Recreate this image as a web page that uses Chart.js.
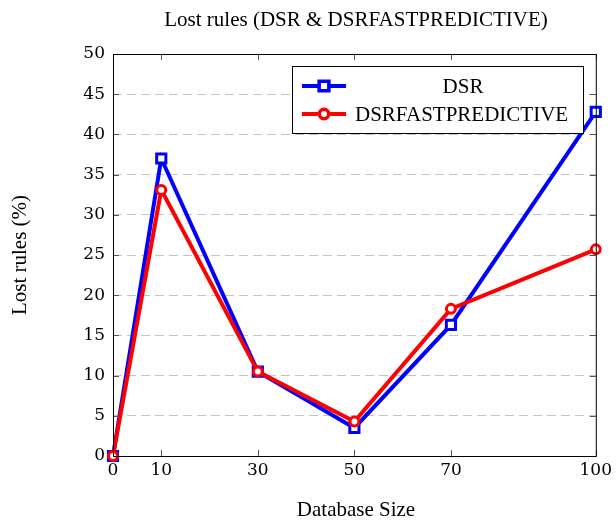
<!DOCTYPE html>
<html>
<head>
<meta charset="utf-8">
<script src="https://cdn.jsdelivr.net/npm/chart.js@4"></script>
<style>
  html, body { margin: 0; padding: 0; background: #fff; }
  #wrap { width: 616px; height: 520px; }
</style>
</head>
<body>
<div id="wrap"><canvas id="c" width="616" height="520"></canvas></div>
<script>
// data
const sizes = [0, 10, 30, 50, 70, 100];
const dsr = [0, 37, 10.5, 3.5, 16.3, 42.8];
const dsrFast = [0, 33.1, 10.5, 4.3, 18.3, 25.7];
const xTicks = [0, 10, 30, 50, 70, 100];
const yTicks = [0, 5, 10, 15, 20, 25, 30, 35, 40, 45, 50];

const SERIF = '"Liberation Serif", "Times New Roman", serif';
const NUM = '"DejaVu Serif", serif';

function pairs(xs, ys) {
  return xs.map((x, i) => ({ x, y: ys[i] }));
}

// frame, inner tick marks, titles and legend
const decor = {
  id: 'decor',
  afterDraw(chart) {
    const { ctx, chartArea: a, scales } = chart;
    ctx.save();

    // inner tick marks
    ctx.strokeStyle = '#555';
    ctx.lineWidth = 1;
    ctx.beginPath();
    yTicks.forEach(v => {
      const y = Math.round(scales.y.getPixelForValue(v)) + 0.5;
      ctx.moveTo(a.left, y); ctx.lineTo(a.left + 6, y);
      ctx.moveTo(a.right, y); ctx.lineTo(a.right - 6, y);
    });
    xTicks.forEach(v => {
      const x = Math.round(scales.x.getPixelForValue(v)) + 0.5;
      ctx.moveTo(x, a.bottom); ctx.lineTo(x, a.bottom - 6);
      ctx.moveTo(x, a.top); ctx.lineTo(x, a.top + 6);
    });
    ctx.stroke();

    // frame
    ctx.strokeStyle = '#000';
    ctx.lineWidth = 1;
    ctx.strokeRect(a.left + 0.5, a.top + 0.5, a.right - a.left, a.bottom - a.top);

    // titles
    ctx.fillStyle = '#000';
    ctx.textAlign = 'center';
    ctx.textBaseline = 'middle';
    ctx.font = '21px ' + SERIF;
    ctx.fillText('Lost rules (DSR & DSRFASTPREDICTIVE)', 356, 20);
    ctx.fillText('Database Size', 356, 510);
    ctx.save();
    ctx.translate(20, 255);
    ctx.rotate(-Math.PI / 2);
    ctx.fillText('Lost rules (%)', 0, 0);
    ctx.restore();

    // legend box
    const lx = 292, ly = 66, lw = 291, lh = 67;
    ctx.fillStyle = '#fff';
    ctx.fillRect(lx, ly, lw, lh);
    ctx.strokeStyle = '#000';
    ctx.strokeRect(lx + 0.5, ly + 0.5, lw, lh);

    const entries = [
      { ds: chart.data.datasets[1], y: 86, center: true },
      { ds: chart.data.datasets[0], y: 114, center: false }
    ];
    entries.forEach(e => {
      const ds = e.ds;
      ctx.strokeStyle = ds.borderColor;
      ctx.lineWidth = ds.borderWidth;
      ctx.beginPath();
      ctx.moveTo(302, e.y); ctx.lineTo(346, e.y);
      ctx.stroke();
      Chart.helpers.drawPoint(ctx, {
        pointStyle: ds.pointStyle,
        rotation: 0,
        radius: ds.pointRadius,
        borderWidth: ds.pointBorderWidth
      }, 324, e.y);
      ctx.fillStyle = ds.pointBackgroundColor;
      ctx.strokeStyle = ds.borderColor;
      ctx.lineWidth = ds.pointBorderWidth;
      ctx.fill();
      ctx.stroke();
      ctx.fillStyle = '#000';
      ctx.font = '21px ' + SERIF;
      if (e.center) {
        ctx.textAlign = 'center';
        ctx.fillText(ds.label, 463, e.y + 1);
      } else {
        ctx.textAlign = 'left';
        ctx.fillText(ds.label, 355, e.y + 1);
      }
    });

    ctx.restore();
  }
};

new Chart(document.getElementById('c'), {
  type: 'line',
  data: {
    datasets: [
      {
        label: 'DSRFASTPREDICTIVE',
        data: pairs(sizes, dsrFast),
        borderColor: '#ff0000',
        borderWidth: 4,
        pointStyle: 'circle',
        pointRadius: 4.5,
        pointBorderWidth: 3,
        pointBackgroundColor: '#fff',
        pointBorderColor: '#ff0000',
        tension: 0,
        clip: false,
        order: 0
      },
      {
        label: 'DSR',
        data: pairs(sizes, dsr),
        borderColor: '#0000ff',
        borderWidth: 4,
        pointStyle: 'rect',
        pointRadius: 6.5,
        pointBorderWidth: 3,
        pointBackgroundColor: '#fff',
        pointBorderColor: '#0000ff',
        tension: 0,
        clip: false,
        order: 1
      }
    ]
  },
  options: {
    responsive: false,
    animation: false,
    layout: { padding: { left: 0, right: 17, top: 54, bottom: 0 } },
    plugins: {
      legend: { display: false },
      title: { display: false },
      tooltip: { enabled: false }
    },
    scales: {
      x: {
        type: 'linear',
        min: 0,
        max: 100,
        afterBuildTicks(axis) {
          axis.ticks = xTicks.map(v => ({ value: v }));
        },
        afterFit(axis) { axis.height = 64; },
        grid: { display: false, drawTicks: false },
        border: { display: false },
        ticks: {
          padding: 4,
          color: '#000',
          font: { family: NUM, size: 17 }
        }
      },
      y: {
        min: 0,
        max: 50,
        afterBuildTicks(axis) {
          axis.ticks = yTicks.map(v => ({ value: v }));
        },
        afterFit(axis) { axis.width = 113; },
        grid: {
          drawTicks: false,
          color: '#c4c4c4',
          lineWidth: 1
        },
        border: { display: false, dash: [9, 5] },
        ticks: {
          padding: 8,
          color: '#000',
          font: { family: NUM, size: 17 }
        }
      }
    }
  },
  plugins: [decor]
});
</script>
</body>
</html>
